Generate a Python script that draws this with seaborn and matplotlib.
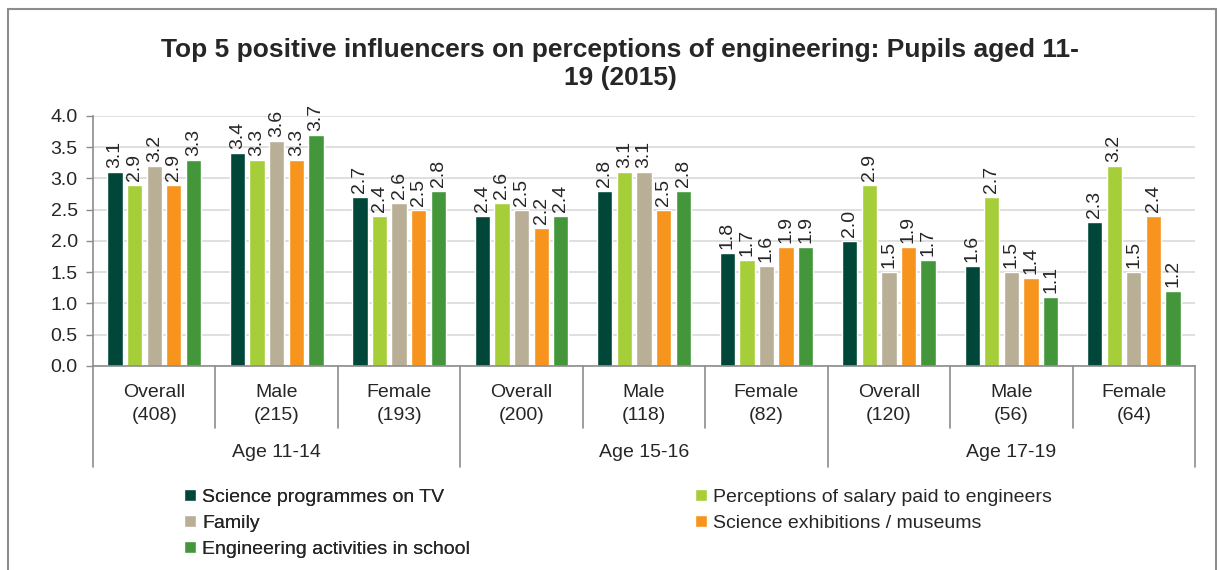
#!/usr/bin/env python3
"""Top 5 positive influencers on perceptions of engineering (pupils 11-19, 2015)."""

import pandas as pd
import matplotlib.pyplot as plt
from matplotlib.patches import Rectangle
import seaborn as sns

# ---- data -------------------------------------------------------------
age_groups = ['Age 11-14', 'Age 15-16', 'Age 17-19']
segments = ['Overall\n(408)', 'Male\n(215)', 'Female\n(193)',
            'Overall\n(200)', 'Male\n(118)', 'Female\n(82)',
            'Overall\n(120)', 'Male\n(56)', 'Female\n(64)']

series = ['Science programmes on TV',
          'Perceptions of salary paid to engineers',
          'Family',
          'Science exhibitions / museums',
          'Engineering activities in school']

tv_programmes = [3.1, 3.4, 2.7, 2.4, 2.8, 1.8, 2.0, 1.6, 2.3]
salary = [2.9, 3.3, 2.4, 2.6, 3.1, 1.7, 2.9, 2.7, 3.2]
family = [3.2, 3.6, 2.6, 2.5, 3.1, 1.6, 1.5, 1.5, 1.5]
exhibitions = [2.9, 3.3, 2.5, 2.2, 2.5, 1.9, 1.9, 1.4, 2.4]
school_activities = [3.3, 3.7, 2.8, 2.4, 2.8, 1.9, 1.7, 1.1, 1.2]

colors = ['#00473A', '#A6CE39', '#B8AF96', '#F7941D', '#43973A']

yticks = [0.0, 0.5, 1.0, 1.5, 2.0, 2.5, 3.0, 3.5, 4.0]

FS = 14


def build_frame() -> pd.DataFrame:
    """Long table for seaborn."""
    values = [tv_programmes, salary, family, exhibitions, school_activities]
    rows = []
    for name, vals in zip(series, values):
        for i, v in enumerate(vals):
            rows.append({'segment': i, 'influencer': name, 'score': v})
    return pd.DataFrame(rows)


def main():
    sns.set_style('white')
    plt.rcParams['font.family'] = ['Liberation Sans', 'DejaVu Sans']

    df = build_frame()

    fig = plt.figure(figsize=(12.21, 5.70), dpi=100)
    ax = fig.add_axes([0.0762, 0.3579, 0.9025, 0.4386])

    # outer chart frame
    fig.patches.append(Rectangle((8 / 1221, -0.05), 1208 / 1221, 1.05 - 9 / 570,
                                 transform=fig.transFigure, fill=False,
                                 edgecolor='#8C8C8C', linewidth=1.5))

    sns.barplot(data=df, x='segment', y='score', hue='influencer',
                hue_order=series, palette=colors, order=list(range(9)),
                width=0.8, gap=0.22, ax=ax, legend=True, saturation=1,
                errorbar=None)

    for cont in ax.containers:
        ax.bar_label(cont, fmt='%.1f', rotation=90, padding=3, fontsize=FS,
                     clip_on=False)

    ax.set_xlim(-0.5, 8.5)
    ax.set_ylim(0, 4.0)
    ax.set_yticks(yticks)
    ax.set_yticklabels([f'{t:.1f}' for t in yticks], fontsize=FS)
    ax.yaxis.grid(True, color='#D9D9D9', linewidth=1.2)
    ax.set_axisbelow(True)
    ax.tick_params(axis='y', which='both', left=True, length=5, width=1,
                   color='#8C8C8C', pad=6)
    ax.set_xticks([])
    ax.set_xlabel('')
    ax.set_ylabel('')
    for side in ['top', 'right']:
        ax.spines[side].set_visible(False)
    for side in ['left', 'bottom']:
        ax.spines[side].set_color('#8C8C8C')
        ax.spines[side].set_linewidth(1.2)

    # two-level category axis
    trans = ax.get_xaxis_transform()
    for k in range(10):
        x = -0.5 + k
        y_end = -0.404 if k % 3 == 0 else -0.248
        ax.plot([x, x], [0, y_end], transform=trans, color='#8C8C8C',
                linewidth=1.2, clip_on=False)
    for i, lab in enumerate(segments):
        ax.text(i, -0.152, lab, transform=trans, ha='center', va='center',
                fontsize=FS, linespacing=1.4)
    for g, lab in enumerate(age_groups):
        ax.text(3 * g + 1, -0.348, lab, transform=trans, ha='center',
                va='center', fontsize=FS)

    fig.text(0.508, 1 - 64 / 570,
             'Top 5 positive influencers on perceptions of engineering: Pupils aged 11-\n19 (2015)',
             ha='center', va='center', fontsize=19, fontweight='bold',
             linespacing=1.22)

    handles, labels = ax.get_legend_handles_labels()
    ax.get_legend().remove()
    common = dict(loc='upper left', frameon=False, fontsize=FS,
                  handlelength=0.6, handleheight=0.6, handletextpad=0.35,
                  labelspacing=0.45, borderaxespad=0, borderpad=0)
    leg1 = fig.legend([handles[i] for i in (0, 2, 4)],
                      [labels[i] for i in (0, 2, 4)],
                      bbox_to_anchor=(184 / 1221, 1 - 489 / 570), **common)
    fig.add_artist(leg1)
    fig.legend([handles[i] for i in (1, 3)], [labels[i] for i in (1, 3)],
               bbox_to_anchor=(695 / 1221, 1 - 489 / 570), **common)

    fig.savefig('out.png', dpi=100)


if __name__ == '__main__':
    main()
